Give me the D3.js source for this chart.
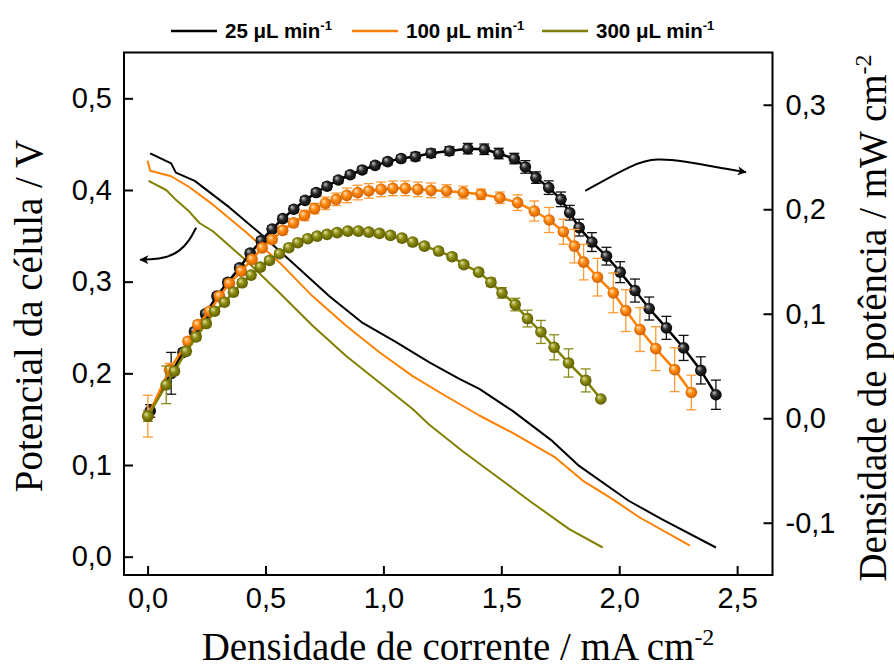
<!DOCTYPE html>
<html><head><meta charset="utf-8">
<script src="https://cdn.jsdelivr.net/npm/d3@7"></script>
<style>body{margin:0;background:#fff}</style>
</head><body>
<svg id="chart" width="894" height="670"></svg>
<script>
// ---------- data ----------
const seriesLabels = ["25 μL min", "100 μL min", "300 μL min"];
const seriesColors = ["#000000", "#ff8000", "#808000"];
const errColors = ["#111111", "#ff9a33", "#8a8a1a"];

// Polarization curves (current density, cell potential)
const vI25 = [0.011,0.10,0.12,0.20,0.347,0.489,0.63,0.771,0.912,1.054,1.195,1.322,1.407,1.548,1.717,1.83,2.04,2.18,2.41];
const vE25 = [0.440,0.429,0.419,0.410,0.381,0.350,0.317,0.284,0.255,0.234,0.212,0.194,0.183,0.159,0.126,0.099,0.061,0.041,0.010];
const vI100 = [0.0,0.011,0.10,0.178,0.277,0.418,0.559,0.70,0.842,0.983,1.124,1.266,1.407,1.548,1.73,1.845,1.97,2.085,2.30];
const vE100 = [0.432,0.421,0.415,0.403,0.384,0.354,0.321,0.284,0.252,0.223,0.197,0.175,0.154,0.135,0.108,0.083,0.063,0.043,0.012];
const vI300 = [0.004,0.079,0.121,0.171,0.22,0.277,0.418,0.559,0.70,0.842,0.983,1.124,1.195,1.336,1.478,1.619,1.788,1.93];
const vE300 = [0.410,0.400,0.389,0.378,0.364,0.355,0.323,0.288,0.252,0.219,0.190,0.161,0.144,0.115,0.088,0.061,0.030,0.010];

// Power density curves (current density, power density, error)
const pI25 = [0.011,0.10,0.15,0.199,0.246,0.294,0.34,0.39,0.435,0.482,0.528,0.573,0.62,0.668,0.715,0.761,0.809,0.859,0.91,0.965,1.018,1.075,1.136,1.202,1.28,1.358,1.428,1.489,1.555,1.602,1.647,1.701,1.753,1.79,1.83,1.884,1.946,2.004,2.067,2.127,2.2,2.273,2.346,2.41];
const pP25 = [0.007,0.043,0.063,0.083,0.100,0.117,0.130,0.144,0.158,0.170,0.181,0.191,0.200,0.2085,0.216,0.222,0.228,0.233,0.2376,0.242,0.2456,0.2485,0.2504,0.2536,0.2558,0.258,0.2574,0.2533,0.2485,0.2405,0.2303,0.2207,0.2095,0.1967,0.1824,0.1686,0.1551,0.1398,0.1222,0.105,0.0865,0.0673,0.0458,0.0225];
const pE25 = [0.006,0.020,0.003,0.003,0.003,0.003,0.003,0.003,0.003,0.003,0.003,0.003,0.003,0.003,0.003,0.003,0.003,0.003,0.003,0.003,0.003,0.003,0.004,0.004,0.004,0.005,0.005,0.005,0.005,0.006,0.0055,0.0065,0.007,0.007,0.008,0.009,0.0085,0.010,0.011,0.011,0.011,0.012,0.013,0.014];

const pI100 = [0.001,0.093,0.171,0.213,0.263,0.305,0.347,0.397,0.443,0.486,0.528,0.573,0.619,0.665,0.708,0.754,0.80,0.845,0.891,0.938,0.99,1.04,1.093,1.146,1.202,1.268,1.339,1.414,1.494,1.569,1.64,1.703,1.763,1.81,1.849,1.908,1.975,2.028,2.088,2.155,2.235,2.306];
const pP100 = [0.002,0.0465,0.0736,0.0896,0.1024,0.1168,0.129,0.1408,0.152,0.163,0.171,0.1798,0.187,0.194,0.2006,0.2057,0.2095,0.2133,0.216,0.2175,0.219,0.220,0.220,0.219,0.2181,0.2175,0.216,0.2143,0.211,0.2063,0.1983,0.1897,0.1785,0.1647,0.1494,0.135,0.12,0.103,0.0849,0.0666,0.0465,0.0247];
const pE100 = [0.020,0.006,0.003,0.003,0.003,0.003,0.003,0.003,0.003,0.003,0.003,0.004,0.004,0.005,0.005,0.006,0.006,0.007,0.007,0.007,0.007,0.007,0.007,0.007,0.007,0.006,0.006,0.005,0.0055,0.0075,0.0096,0.012,0.012,0.016,0.017,0.018,0.019,0.020,0.021,0.021,0.021,0.0165];

const pI300 = [0.001,0.079,0.114,0.164,0.206,0.249,0.284,0.326,0.364,0.401,0.439,0.478,0.517,0.559,0.599,0.637,0.679,0.719,0.761,0.804,0.849,0.894,0.938,0.983,1.03,1.079,1.124,1.174,1.234,1.291,1.341,1.404,1.456,1.503,1.559,1.611,1.668,1.724,1.785,1.858,1.922];
const pP300 = [0.002,0.032,0.045,0.064,0.0778,0.0906,0.1024,0.111,0.1206,0.1296,0.137,0.1446,0.151,0.1574,0.1632,0.168,0.1718,0.1743,0.176,0.1776,0.1791,0.1791,0.1781,0.1769,0.175,0.1724,0.1686,0.1647,0.16,0.1546,0.147,0.1398,0.130,0.120,0.1088,0.0954,0.0826,0.0679,0.0529,0.0362,0.0184];
const pE300 = [0.005,0.018,0.003,0.003,0.003,0.003,0.003,0.003,0.003,0.003,0.003,0.003,0.003,0.003,0.003,0.003,0.003,0.003,0.003,0.003,0.003,0.003,0.003,0.003,0.003,0.003,0.003,0.003,0.003,0.003,0.003,0.003,0.004,0.005,0.006,0.008,0.011,0.012,0.0135,0.011,0.0];

const xTicks = [0, 0.5, 1.0, 1.5, 2.0, 2.5];
const yLeftTicks = [0, 0.1, 0.2, 0.3, 0.4, 0.5];
const yRightTicks = [-0.1, 0, 0.1, 0.2, 0.3];

// annotation arrows (data coordinates)
const arrowLeft = [[0.206,0.359],[0.178,0.345],[0.136,0.333],[0.08,0.326],[0.008,0.324],[-0.031,0.324]];
const arrowRight = [[1.856,0.2175],[2.07,0.2448],[2.16,0.2485],[2.265,0.2465],[2.47,0.238],[2.537,0.2355]];

// ---------- layout ----------
const svg = d3.select("#chart");
const L = 124, R = 772.5, T = 52.5, B = 575;
const x = d3.scaleLinear().domain([-0.1, 2.65]).range([L, R]);
const yL = d3.scaleLinear().domain([-0.02, 0.55]).range([B, T]);
const yR = d3.scaleLinear().domain([-0.15, 0.35]).range([B, T]);
const fmt = v => {
  const a = Math.abs(v) < 1e-9 ? 0 : v;
  return (a < 0 ? "-" : "") + Math.abs(a).toFixed(1).replace(".", ",");
};

// gradients for sphere markers
const defs = svg.append("defs");
const gradStops = [
  ["#c8c8c8", "#2a2a2a", "#000000"],
  ["#ffe6c0", "#ff8a10", "#c85a00"],
  ["#e6e6a8", "#8c8c12", "#555500"]
];
gradStops.forEach((s, i) => {
  const g = defs.append("radialGradient").attr("id", "ball" + i)
    .attr("cx", "50%").attr("cy", "50%").attr("r", "55%").attr("fx", "32%").attr("fy", "30%");
  g.append("stop").attr("offset", "0%").attr("stop-color", s[0]);
  g.append("stop").attr("offset", "45%").attr("stop-color", s[1]);
  g.append("stop").attr("offset", "100%").attr("stop-color", s[2]);
});
defs.append("marker").attr("id", "ah").attr("viewBox", "0 0 10 10").attr("refX", 9).attr("refY", 5)
  .attr("markerWidth", 12).attr("markerHeight", 9).attr("markerUnits", "userSpaceOnUse")
  .attr("orient", "auto")
  .append("path").attr("d", "M0,0 L10,5 L0,10 L2.5,5 Z").attr("fill", "#000");

// ---------- polarization lines ----------
const vSeries = [[vI25, vE25], [vI100, vE100], [vI300, vE300]];
const lineL = d3.line().x(d => x(d[0])).y(d => yL(d[1]));
vSeries.forEach((s, i) => {
  const pts = s[0].map((v, k) => [v, s[1][k]]);
  svg.append("path").attr("d", lineL(pts)).attr("fill", "none")
    .attr("stroke", seriesColors[i]).attr("stroke-width", 2).attr("stroke-linejoin", "round");
});

// ---------- power curves ----------
const pSeries = [[pI25, pP25, pE25], [pI100, pP100, pE100], [pI300, pP300, pE300]];
const lineR = d3.line().x(d => x(d[0])).y(d => yR(d[1]));
pSeries.forEach((s, i) => {
  const pts = s[0].map((v, k) => ({i: v, p: s[1][k], e: s[2][k]}));
  const g = svg.append("g");
  g.append("path").attr("d", lineR(pts.map(d => [d.i, d.p]))).attr("fill", "none")
    .attr("stroke", seriesColors[i]).attr("stroke-width", 2.5);
  const eb = g.append("g").attr("stroke", errColors[i]).attr("stroke-width", 1.3);
  pts.filter(d => d.e > 0).forEach(d => {
    const cx = x(d.i), y1 = yR(d.p - d.e), y2 = yR(d.p + d.e);
    eb.append("line").attr("x1", cx).attr("x2", cx).attr("y1", y1).attr("y2", y2);
    eb.append("line").attr("x1", cx - 5).attr("x2", cx + 5).attr("y1", y1).attr("y2", y1);
    eb.append("line").attr("x1", cx - 5).attr("x2", cx + 5).attr("y1", y2).attr("y2", y2);
  });
  g.selectAll("circle").data(pts).join("circle")
    .attr("cx", d => x(d.i)).attr("cy", d => yR(d.p)).attr("r", 5.8)
    .attr("fill", `url(#ball${i})`);
});

// ---------- arrows ----------
const arrowLine = d3.line().curve(d3.curveBasis);
svg.append("path").attr("d", arrowLine(arrowLeft.map(d => [x(d[0]), yL(d[1])])))
  .attr("fill", "none").attr("stroke", "#000").attr("stroke-width", 2).attr("marker-end", "url(#ah)");
svg.append("path").attr("d", arrowLine(arrowRight.map(d => [x(d[0]), yR(d[1])])))
  .attr("fill", "none").attr("stroke", "#000").attr("stroke-width", 2).attr("marker-end", "url(#ah)");

// ---------- frame & axes ----------
svg.append("rect").attr("x", L).attr("y", T).attr("width", R - L).attr("height", B - T)
  .attr("fill", "none").attr("stroke", "#000").attr("stroke-width", 2);

const tickFont = "'Liberation Sans', Arial, sans-serif";
function styleAxis(g) {
  g.select(".domain").remove();
  g.selectAll(".tick line").attr("stroke", "#000").attr("stroke-width", 2);
  g.selectAll(".tick text").attr("font-family", tickFont).attr("font-size", 29).attr("fill", "#000");
}
svg.append("g").attr("transform", `translate(0,${B})`)
  .call(d3.axisBottom(x).tickValues(xTicks).tickFormat(fmt).tickSizeInner(-9).tickSizeOuter(0).tickPadding(12))
  .call(styleAxis);
svg.append("g").attr("transform", `translate(${L},0)`)
  .call(d3.axisLeft(yL).tickValues(yLeftTicks).tickFormat(fmt).tickSizeInner(-9).tickSizeOuter(0).tickPadding(12))
  .call(styleAxis);
svg.append("g").attr("transform", `translate(${R},0)`)
  .call(d3.axisRight(yR).tickValues(yRightTicks).tickFormat(fmt).tickSizeInner(-9).tickSizeOuter(0).tickPadding(13))
  .call(styleAxis);

// ---------- titles ----------
const titleFont = "'Liberation Serif', 'Times New Roman', serif";
function title(parent, main, sup) {
  const t = parent.append("text").attr("font-family", titleFont).attr("font-size", 39).attr("fill", "#000")
    .attr("text-anchor", "middle");
  t.append("tspan").text(main);
  if (sup) t.append("tspan").attr("font-size", 24).attr("dy", -15).text(sup);
  return t;
}
title(svg, "Densidade de corrente / mA cm", "-2").attr("x", 458).attr("y", 660);
title(svg, "Potencial da célula / V", null).attr("transform", "translate(42,316) rotate(-90)");
title(svg, "Densidade de potência / mW cm", "-2").attr("transform", "translate(886,318) rotate(-90)");

// ---------- legend ----------
const legX = [171, 352, 542];
const lg = svg.append("g");
seriesLabels.forEach((lab, i) => {
  lg.append("line").attr("x1", legX[i]).attr("x2", legX[i] + 46).attr("y1", 31).attr("y2", 31)
    .attr("stroke", seriesColors[i]).attr("stroke-width", 2.5);
  const t = lg.append("text").attr("x", legX[i] + 54).attr("y", 38)
    .attr("font-family", tickFont).attr("font-weight", "bold").attr("font-size", 20.5).attr("fill", "#000");
  t.append("tspan").text(lab);
  t.append("tspan").attr("font-size", 13).attr("dy", -8).text("-1");
});
</script>
</body></html>
